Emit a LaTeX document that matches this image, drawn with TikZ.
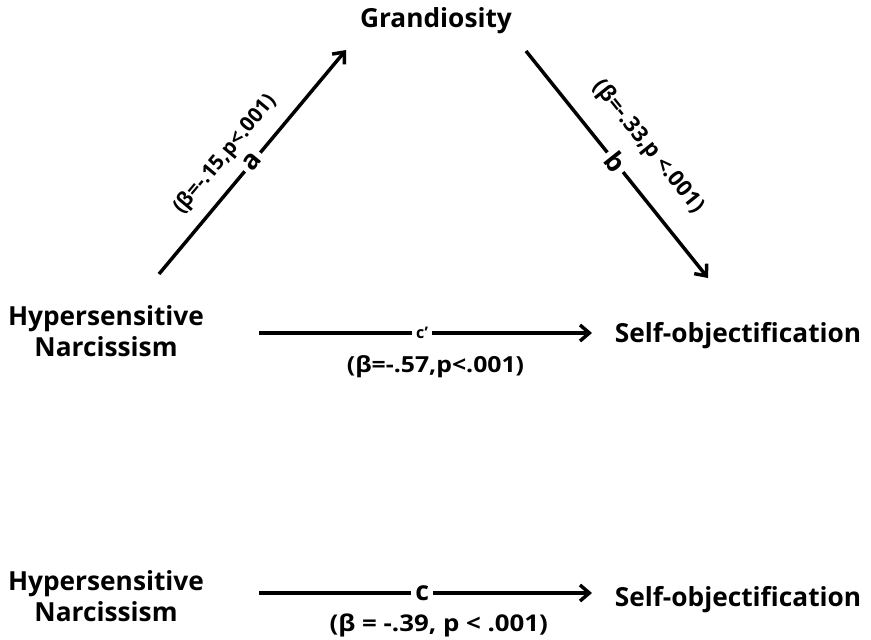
\documentclass[tikz,border=0pt]{standalone}
\usepackage{fontspec}
\setmainfont{Open Sans}
\newfontfamily\widefont[FakeStretch=1.12]{Open Sans}
\usetikzlibrary{arrows.meta}
\begin{document}
\begin{tikzpicture}[x=0.75pt,y=-0.75pt,
  var/.style={font=\bfseries\fontsize{19.7}{23.5}\selectfont, align=center, inner sep=0pt},
  link/.style={line width=2.6pt, -{Straight Barb[length=7pt,width=12pt]}},
  brk/.style={fill=white, inner xsep=3pt, inner ysep=0pt, font=\bfseries\fontsize{20}{22}\selectfont},
  smallbrk/.style={fill=white, inner xsep=3pt, inner ysep=0pt, font=\bfseries\fontsize{12}{14}\selectfont},
  beta/.style={inner sep=0pt, font=\bfseries\fontsize{15.5}{18}\selectfont},
  hbeta/.style={inner sep=0pt, font=\widefont\bfseries\fontsize{16.6}{19}\selectfont}
]
\useasboundingbox (0,0) rectangle (871,639);
% variables
\node[var] (G) at (436,21) {Grandiosity};
\node[var] (H1) at (106,331) {Hypersensitive\\Narcissism};
\node[var] (S1) at (738,336) {Self-objectification};
\node[var] (H2) at (106,596) {Hypersensitive\\Narcissism};
\node[var] (S2) at (738,600) {Self-objectification};
% arrow end points
\coordinate (aS) at (159,274);
\coordinate (aE) at (346,50);
\coordinate (bS) at (526,51);
\coordinate (bE) at (708,278);
\coordinate (cpS) at (259,333);
\coordinate (cpE) at (592,333);
\coordinate (cS) at (259,593);
\coordinate (cE) at (592,593);
% paths
\draw[link] (aS) -- node[brk, sloped, pos=0.5] {a}
  node[beta, sloped, pos=0.46, above=10pt] {(β=-.15,p<.001)} (aE);
\draw[link] (bS) -- node[brk, sloped, pos=0.49] {b}
  node[beta, sloped, pos=0.52, above=17pt, font=\bfseries\fontsize{16.5}{18}\selectfont] {(β=-.33,p <.001)} (bE);
\draw[link] (cpS) -- node[smallbrk, pos=0.49] {c’}
  node[hbeta, pos=0.53, below=25pt, anchor=center] {(β=-.57,p<.001)} (cpE);
\draw[link] (cS) -- node[brk, pos=0.49] {c}
  node[hbeta, pos=0.54, below=24.5pt, anchor=center, font=\widefont\bfseries\fontsize{17.3}{19}\selectfont] {(β = -.39, p < .001)} (cE);
\end{tikzpicture}
\end{document}
